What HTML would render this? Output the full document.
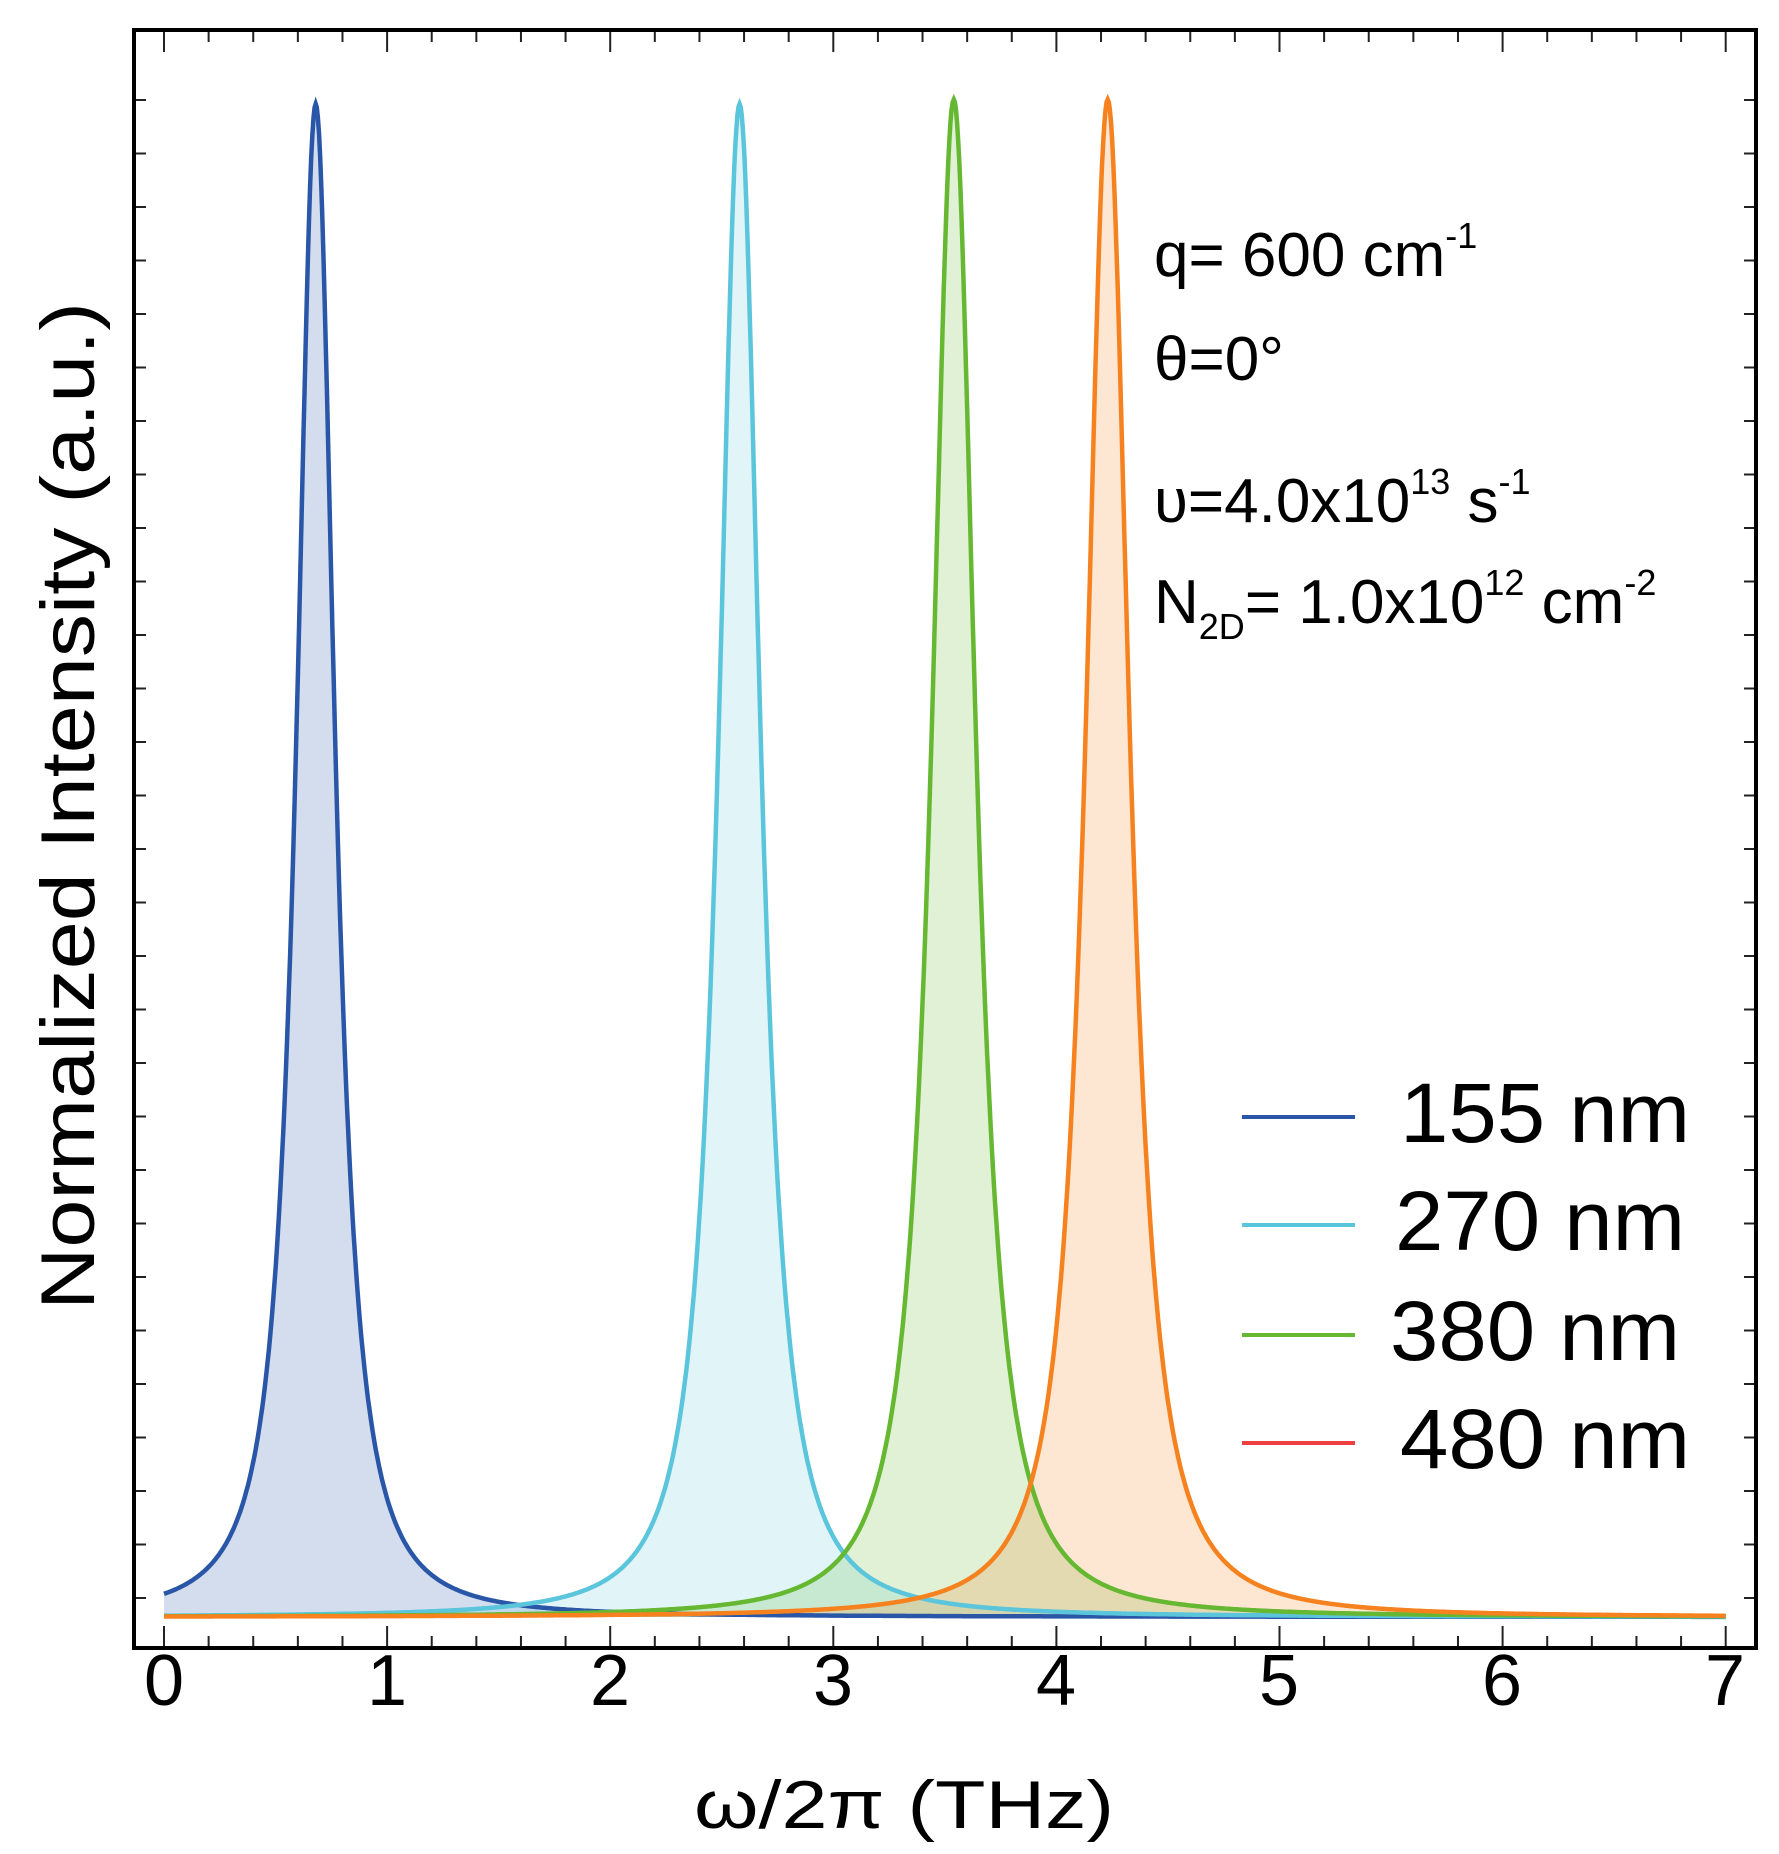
<!DOCTYPE html>
<html><head><meta charset="utf-8">
<style>
html,body{margin:0;padding:0;background:#fff;}
svg{display:block;}
text{font-family:"Liberation Sans","DejaVu Sans",sans-serif;fill:#000;}
</style></head>
<body>
<svg id="s" width="1779" height="1854" viewBox="0 0 1779 1854" xmlns="http://www.w3.org/2000/svg">
<g id="fills"></g>
<g id="lines"></g>
<g id="ticks" stroke="#222" stroke-width="2"></g>
<rect x="134" y="30" width="1622" height="1618" fill="none" stroke="#000" stroke-width="4"/>
<g font-size="72" text-anchor="middle">
<text x="164" y="1705">0</text><text x="387" y="1705">1</text><text x="610" y="1705">2</text><text x="833" y="1705">3</text><text x="1056" y="1705">4</text><text x="1279" y="1705">5</text><text x="1502" y="1705">6</text><text x="1725" y="1705">7</text>
</g>
<text x="904" y="1828" font-size="68" text-anchor="middle" textLength="420" lengthAdjust="spacingAndGlyphs">ω/2π (THz)</text>
<text transform="translate(94,806) rotate(-90)" font-size="76" text-anchor="middle" textLength="1008" lengthAdjust="spacingAndGlyphs">Normalized Intensity (a.u.)</text>
<g font-size="62">
<text x="1154" y="276">q= 600 cm<tspan font-size="36" dy="-28">-1</tspan></text>
<text x="1154" y="380">θ=0°</text>
<text x="1154" y="522">υ=4.0x10<tspan font-size="36" dy="-28">13</tspan><tspan dy="28"> s</tspan><tspan font-size="36" dy="-28">-1</tspan></text>
<text x="1154" y="623">N<tspan font-size="36" dy="16">2D</tspan><tspan dy="-16">= 1.0x10</tspan><tspan font-size="36" dy="-28">12</tspan><tspan dy="28"> cm</tspan><tspan font-size="36" dy="-28">-2</tspan></text>
</g>
<g stroke-width="4">
<line x1="1242" y1="1117" x2="1355" y2="1117" stroke="#2a56a8"/>
<line x1="1242" y1="1225" x2="1355" y2="1225" stroke="#5bc5dc"/>
<line x1="1242" y1="1335" x2="1355" y2="1335" stroke="#66b832"/>
<line x1="1242" y1="1443" x2="1355" y2="1443" stroke="#ee4040"/>
</g>
<g font-size="84">
<text x="1400" y="1142" textLength="290" lengthAdjust="spacingAndGlyphs">155 nm</text>
<text x="1395" y="1250" textLength="290" lengthAdjust="spacingAndGlyphs">270 nm</text>
<text x="1390" y="1360" textLength="290" lengthAdjust="spacingAndGlyphs">380 nm</text>
<text x="1400" y="1468" textLength="290" lengthAdjust="spacingAndGlyphs">480 nm</text>
</g>
</svg>
<script>
(function(){
var NS="http://www.w3.org/2000/svg";
function X(f){return 164+f*223.1;}
var base=1617, peakY=104, H=base-peakY;
var series=[
 {c:0.68,g:0.112,col:"#2a56a8",fill:"rgba(42,86,168,0.2)",p:100},
 {c:2.58,g:0.122,col:"#5bc5dc",fill:"rgba(91,197,220,0.18)",p:100},
 {c:3.54,g:0.128,col:"#66b832",fill:"rgba(102,184,50,0.2)",p:100.3},
 {c:4.23,g:0.128,col:"#f5821f",fill:"rgba(245,130,31,0.2)",p:100.3}
];
var fills=document.getElementById("fills"),lines=document.getElementById("lines");
series.forEach(function(s){
 var d="";
 for(var i=0;i<=1400;i++){
  var f=i*7/1400;
  var dx=f-s.c, L=Math.pow(s.g*s.g/(dx*dx+s.g*s.g),1.15);
  var y=base-(H*(s.p/100))*L;
  d+=(i?"L":"M")+X(f).toFixed(1)+" "+y.toFixed(1);
 }
 var pf=document.createElementNS(NS,"path");
 pf.setAttribute("d",d+"L"+X(7)+" "+base+"L"+X(0)+" "+base+"Z");
 pf.setAttribute("fill",s.fill);fills.appendChild(pf);
 var pl=document.createElementNS(NS,"path");
 pl.setAttribute("d",d);pl.setAttribute("fill","none");pl.setAttribute("stroke",s.col);pl.setAttribute("stroke-width","4.5");
 lines.appendChild(pl);
});
var t=document.getElementById("ticks"),tk="";
for(var i=0;i<=35;i++){
 var x=X(i*0.2),len=(i%5==0)?22:12;
 if(x<136||x>1754)continue;
 tk+="M"+x+" 1648v-"+len+"M"+x+" 30v"+len;
}
for(var y=100;y<1640;y+=53.5){
 tk+="M134 "+y.toFixed(1)+"h12M1756 "+y.toFixed(1)+"h-12";
}
var p=document.createElementNS(NS,"path");p.setAttribute("d",tk);t.appendChild(p);
})();
</script>
</body></html>
